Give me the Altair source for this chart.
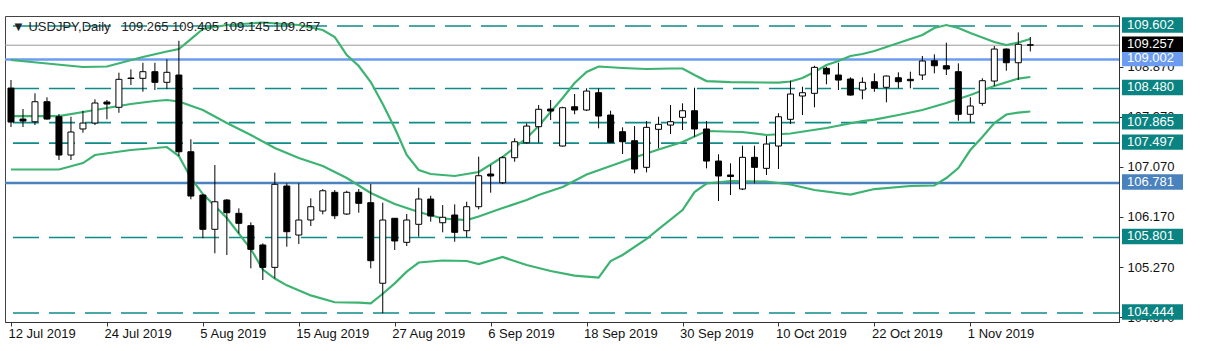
import altair as alt
import pandas as pd

# ---------------- data ----------------
tick_bars = [0, 8, 16, 24, 32, 40, 48, 56, 64, 72, 80]
tick_labels = ["12 Jul 2019", "24 Jul 2019", "5 Aug 2019", "15 Aug 2019", "27 Aug 2019",
               "6 Sep 2019", "18 Sep 2019", "30 Sep 2019", "10 Oct 2019", "22 Oct 2019", "1 Nov 2019"]

opens = [
    108.487, 107.930, 107.881, 108.241, 107.971, 107.283, 107.751, 107.858, 108.236, 108.141,
    108.667, 108.662, 108.781, 108.590, 108.721, 107.342, 106.564, 105.948, 106.474, 106.235,
    106.013, 105.666, 105.264, 106.726, 105.845, 106.115, 106.277, 106.613, 106.223, 106.613,
    106.426, 104.978, 106.146, 105.714, 106.038, 106.492, 106.066, 106.205, 105.923, 106.354,
    106.942, 106.785, 107.235, 107.504, 107.792, 108.110, 107.445, 108.151, 108.092, 108.403,
    108.002, 107.702, 107.540, 107.062, 107.745, 107.822, 107.961, 108.079, 107.751, 107.175,
    106.924, 106.672, 107.242, 107.044, 107.445, 107.925, 108.344, 108.392, 108.841, 108.721,
    108.649, 108.451, 108.601, 108.500, 108.672, 108.644, 108.721, 108.978, 108.888, 108.781,
    108.015, 108.212, 108.613, 109.188, 108.942, 109.265]
highs = [
    108.631, 108.110, 108.392, 108.321, 108.020, 107.971, 108.079, 108.285, 108.272, 108.763,
    108.824, 108.942, 108.942, 109.003, 109.337, 107.566, 106.582, 107.104, 106.492, 106.325,
    106.074, 105.696, 106.965, 106.775, 106.775, 106.505, 106.672, 106.654, 106.641, 106.672,
    106.762, 106.426, 106.151, 106.223, 106.695, 106.552, 106.384, 106.397, 106.444, 107.253,
    107.104, 107.265, 107.583, 107.853, 108.182, 108.272, 108.151, 108.380, 108.482, 108.482,
    108.079, 107.781, 107.804, 107.894, 107.971, 108.182, 108.212, 108.493, 107.894, 107.296,
    107.134, 107.450, 107.450, 107.625, 108.033, 108.619, 108.511, 108.888, 108.870, 108.942,
    108.680, 108.680, 108.752, 108.712, 108.770, 108.781, 109.063, 109.093, 109.302, 108.931,
    108.321, 108.662, 109.242, 109.200, 109.488, 109.405]
lows = [
    107.786, 107.786, 107.822, 107.921, 107.193, 107.193, 107.684, 107.822, 107.925, 108.043,
    108.541, 108.421, 108.451, 108.469, 107.265, 106.487, 105.786, 105.517, 105.486, 105.876,
    105.247, 105.037, 105.067, 105.635, 105.684, 106.007, 106.217, 106.133, 106.205, 106.246,
    105.247, 104.438, 105.576, 105.648, 105.815, 106.085, 105.894, 105.725, 105.804, 106.307,
    106.606, 106.762, 107.163, 107.490, 107.504, 107.912, 107.436, 108.015, 108.074, 107.763,
    107.504, 107.301, 106.954, 106.972, 107.404, 107.661, 107.733, 107.612, 107.044, 106.456,
    106.564, 106.654, 106.775, 106.924, 107.032, 107.840, 108.002, 108.141, 108.554, 108.451,
    108.352, 108.285, 108.421, 108.230, 108.482, 108.482, 108.631, 108.752, 108.721, 107.900,
    107.871, 108.169, 108.523, 108.798, 108.631, 109.145]
closes = [
    107.876, 107.894, 108.241, 107.930, 107.283, 107.697, 107.858, 108.218, 108.200, 108.644,
    108.658, 108.781, 108.590, 108.770, 107.342, 106.546, 105.948, 106.443, 106.246, 106.056,
    105.588, 105.264, 106.757, 105.905, 106.115, 106.354, 106.641, 106.192, 106.613, 106.415,
    105.384, 106.115, 105.738, 106.115, 106.492, 106.187, 106.164, 105.894, 106.354, 106.911,
    106.906, 107.235, 107.522, 107.804, 108.105, 108.074, 108.133, 108.092, 108.433, 107.984,
    107.511, 107.522, 107.032, 107.781, 107.835, 107.882, 108.079, 107.751, 107.175, 106.906,
    106.897, 107.242, 107.062, 107.481, 107.971, 108.380, 108.403, 108.859, 108.739, 108.631,
    108.361, 108.590, 108.482, 108.703, 108.601, 108.619, 108.973, 108.888, 108.829, 108.015,
    108.164, 108.619, 109.188, 108.942, 109.273, 109.257]

# Bollinger bands, read at selected bars
upper_idx = [0, 6, 8, 11, 13, 14, 15, 16, 18, 21, 24, 26, 27, 28, 29, 30, 31, 32, 33, 34, 35,
             37, 39, 41, 43, 44, 45, 46, 47, 48, 49, 51, 53, 55, 56, 57, 58, 60, 64, 65, 66,
             67, 68, 69, 70, 71, 72, 74, 76, 77, 78, 79, 80, 82, 83, 84, 85]
upper_val = [108.991, 108.865, 108.874, 109.045, 109.143, 109.188, 109.368, 109.548, 109.620,
             109.665, 109.620, 109.530, 109.404, 109.080, 108.883, 108.595, 108.200, 107.768,
             107.283, 107.014, 106.942, 106.906, 106.978, 107.247, 107.589, 107.804, 108.056,
             108.308, 108.577, 108.775, 108.874, 108.847, 108.829, 108.838, 108.838, 108.721,
             108.613, 108.595, 108.583, 108.604, 108.667, 108.775, 108.901, 108.973, 109.063,
             109.099, 109.152, 109.296, 109.440, 109.566, 109.620, 109.566, 109.476, 109.314,
             109.260, 109.305, 109.368]
mid_idx = [0, 4, 7, 10, 12, 13, 14, 16, 18, 20, 22, 24, 26, 28, 30, 32, 34, 36, 38, 39,
           41, 43, 44, 46, 48, 50, 52, 54, 56, 58, 61, 63, 65, 68, 71, 72, 74, 76, 78, 80,
           82, 84, 85]
mid_val = [107.984, 107.984, 108.092, 108.200, 108.254, 108.272, 108.245, 108.092, 107.858,
           107.643, 107.409, 107.229, 107.085, 106.870, 106.600, 106.403, 106.259, 106.142,
           106.115, 106.178, 106.331, 106.474, 106.564, 106.708, 106.933, 107.085, 107.238,
           107.382, 107.517, 107.715, 107.697, 107.643, 107.670, 107.769, 107.894, 107.921,
           108.002, 108.092, 108.218, 108.362, 108.523, 108.658, 108.685]
low_idx = [0, 4, 6, 7, 10, 13, 14, 15, 16, 18, 20, 21, 22, 23, 25, 27, 29, 30, 31, 32, 33,
           34, 36, 38, 39, 41, 43, 45, 47, 49, 50, 51, 53, 54, 56, 57, 58, 60, 63, 65, 67,
           70, 72, 75, 77, 78, 79, 80, 81, 82, 83, 84, 85]
low_val = [107.023, 107.023, 107.139, 107.283, 107.373, 107.427, 107.265, 106.870, 106.582,
           106.151, 105.594, 105.225, 105.063, 104.941, 104.760, 104.637, 104.629, 104.618,
           104.790, 104.977, 105.188, 105.351, 105.387, 105.378, 105.324, 105.450, 105.306,
           105.198, 105.117, 105.081, 105.378, 105.486, 105.774, 105.953, 106.295, 106.618,
           106.771, 106.816, 106.807, 106.753, 106.654, 106.573, 106.672, 106.726, 106.735,
           106.870, 107.050, 107.373, 107.607, 107.858, 108.011, 108.047, 108.065]

dashed_levels = [109.602, 108.480, 107.865, 107.497, 105.801, 104.444]
solid_levels = [109.002, 106.781]
solid_colors = ["#6b9cf0", "#4a82bd"]
bid_price = 109.257
axis_ticks = [104.370, 105.270, 106.170, 107.070, 107.970, 108.870]

box_prices = [109.602, 108.480, 107.865, 107.497, 105.801, 104.444, 109.002, 106.781, 109.257]
box_colors = ["#0a8482", "#0a8482", "#0a8482", "#0a8482", "#0a8482", "#0a8482",
              "#6b9cf0", "#4a82bd", "#000000"]
header = "\u25bc\u00a0USDJPY,Daily\u00a0\u00a0\u00a0109.265\u00a0109.405\u00a0109.145\u00a0109.257"

# ---------------- tables ----------------
n = len(opens)
candles = pd.DataFrame({"bar": list(range(n)), "open": opens, "high": highs,
                        "low": lows, "close": closes})
candles["body"] = ["white" if c >= o else "black" for o, c in zip(opens, closes)]

bands = pd.concat([
    pd.DataFrame({"bar": upper_idx, "price": upper_val, "band": "upper"}),
    pd.DataFrame({"bar": mid_idx, "price": mid_val, "band": "middle"}),
    pd.DataFrame({"bar": low_idx, "price": low_val, "band": "lower"}),
])
dashed = pd.DataFrame({"price": dashed_levels})
solid = pd.DataFrame({"price": solid_levels, "color": solid_colors})
bid = pd.DataFrame({"price": [bid_price]})
boxes = pd.DataFrame({"price": box_prices, "bg": box_colors,
                      "label": [f"{p:.3f}" for p in box_prices]})

FONT = "Liberation Sans"
xscale = alt.Scale(domain=[-0.083, 91.98], nice=False, zero=False)
yscale = alt.Scale(domain=[104.282, 109.782], nice=False, zero=False)

label_expr = ("[" + ",".join(f"'{t}'" for t in tick_labels) + "][indexof(["
              + ",".join(str(b) for b in tick_bars) + "], datum.value)]")
xaxis = alt.Axis(values=tick_bars, labelExpr=label_expr, orient="bottom", title=None,
                 grid=False, tickSize=4, labelAlign="left", labelBaseline="top",
                 labelPadding=1, labelOffset=-3, labelFlush=False, labelOverlap=False,
                 labelBound=False, labelFont=FONT, labelFontSize=13, labelColor="#111",
                 domainColor="#333", tickColor="#333")
yaxis = alt.Axis(values=axis_ticks, format=".3f", orient="right", title=None, grid=False,
                 tickSize=4, labelPadding=4, labelFont=FONT, labelFontSize=13,
                 labelColor="#111", labelOverlap=False, labelBound=False,
                 domainColor="#333", tickColor="#333")

X = lambda f: alt.X(f"{f}:Q", scale=xscale, axis=xaxis)
Y = lambda f: alt.Y(f"{f}:Q", scale=yscale, axis=yaxis)

dash_layer = alt.Chart(dashed).mark_rule(color="#0e8c88", strokeWidth=1.6,
                                         strokeDash=[26, 10]).encode(y=Y("price"))
solid_layer = alt.Chart(solid).mark_rule(strokeWidth=2.5).encode(
    y=Y("price"), color=alt.Color("color:N", scale=None))
bid_layer = alt.Chart(bid).mark_rule(color="#9a9a9a", strokeWidth=1).encode(y=Y("price"))
band_layer = alt.Chart(bands).mark_line(color="#3cb371", strokeWidth=2.2).encode(
    x=X("bar"), y=Y("price"), detail="band:N")
wick_layer = alt.Chart(candles).mark_rule(color="black", strokeWidth=1).encode(
    x=X("bar"), y=Y("low"), y2="high:Q")
body_layer = alt.Chart(candles).mark_bar(size=6, stroke="black", strokeWidth=1).encode(
    x=X("bar"), y=Y("open"), y2="close:Q", fill=alt.Fill("body:N", scale=None))
box_layer = alt.Chart(boxes).transform_calculate(
    top="datum.price + 0.157", bot="datum.price - 0.121"
).mark_rect().encode(
    x=alt.value(1117), x2=alt.value(1178), y=Y("top"), y2="bot:Q",
    fill=alt.Fill("bg:N", scale=None))
box_text = alt.Chart(boxes).mark_text(align="left", baseline="middle", font=FONT,
                                      fontSize=13, color="white", dy=-1).encode(
    x=alt.value(1122), y=Y("price"), text="label:N")

chart = alt.layer(dash_layer, solid_layer, bid_layer, band_layer, wick_layer, body_layer,
                  box_layer, box_text).properties(
    width=1114, height=306,
    autosize=alt.AutoSizeParams(type="none"),
    padding={"left": 5, "top": 16, "right": 88, "bottom": 29},
    title=alt.TitleParams(text=header, anchor="start", frame="group", font=FONT,
                          fontSize=13, fontWeight="normal", color="#222",
                          offset=0, dx=7, dy=28, baseline="alphabetic"),
    background="white",
).configure_view(stroke="#444", strokeWidth=1)

chart.save("out.html", embed_options={"renderer": "svg", "actions": False})
